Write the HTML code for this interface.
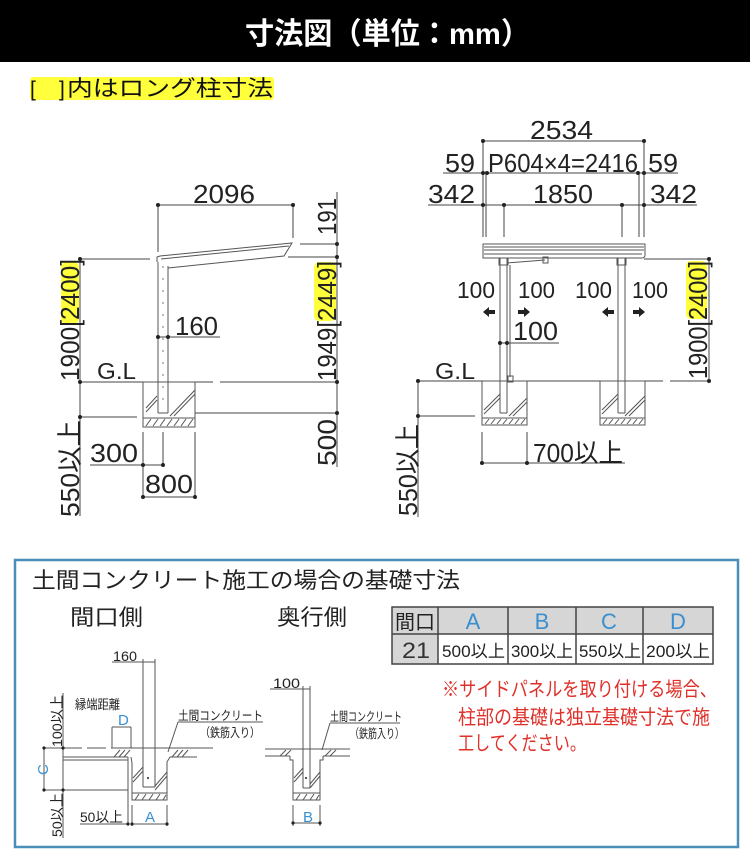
<!DOCTYPE html>
<html><head><meta charset="utf-8">
<style>
html,body{margin:0;padding:0;background:#fff;}
svg{display:block}
text{font-family:"Liberation Sans","Noto Sans CJK JP",sans-serif;}
</style></head><body>
<svg width="750" height="862" viewBox="0 0 750 862" xmlns="http://www.w3.org/2000/svg">
<rect width="750" height="862" fill="#fff"/>
<!-- header -->
<rect x="0" y="0" width="750" height="62" fill="#000"/>
<text x="245" y="44" font-size="30" font-weight="bold" fill="#fff" textLength="285" lengthAdjust="spacingAndGlyphs">寸法図（単位：mm）</text>
<!-- legend -->
<rect x="30" y="77" width="244" height="23" rx="3" fill="#ffff3c"/>
<text x="30" y="96" font-size="21" fill="#111">[</text>
<text x="59" y="96" font-size="21" fill="#111">]</text>
<text x="67" y="96" font-size="22" fill="#111" textLength="206" lengthAdjust="spacingAndGlyphs">内はロング柱寸法</text>

<!-- yellow highlights for rotated labels -->
<rect x="61" y="262" width="18" height="62" rx="5" fill="#ffff3c"/>
<rect x="314" y="262" width="22" height="59" rx="5" fill="#ffff3c"/>
<rect x="686" y="261" width="21" height="58" rx="5" fill="#ffff3c"/>

<!-- ===== LEFT DIAGRAM dimension lines ===== -->
<g stroke="#444" stroke-width="1" fill="none">
 <line x1="158" y1="205" x2="293" y2="205"/>
 <line x1="158" y1="205" x2="158" y2="252"/>
 <line x1="293" y1="205" x2="293" y2="238"/>
 <line x1="337" y1="192" x2="337" y2="467"/>
 <line x1="300" y1="244" x2="337" y2="244"/>
 <line x1="288" y1="257" x2="337" y2="257"/>
 <line x1="80" y1="259" x2="80" y2="516"/>
 <line x1="80" y1="259" x2="150" y2="259"/>
 <line x1="80" y1="417" x2="137" y2="417"/>
 <line x1="80" y1="382" x2="213" y2="382"/>
 <line x1="220" y1="382" x2="337" y2="382"/>
 <line x1="195" y1="413" x2="337" y2="413"/>
 <line x1="158" y1="337" x2="220" y2="337"/>
 <line x1="143" y1="432" x2="143" y2="498"/>
 <line x1="163" y1="432" x2="163" y2="465"/>
 <line x1="195" y1="432" x2="195" y2="498"/>
 <line x1="90" y1="465" x2="163" y2="465"/>
 <line x1="143" y1="497" x2="195" y2="497"/>
</g>
<!-- left structure -->
<g stroke="#555" stroke-width="1" fill="none">
 <polyline points="157,262 157,257 160,256 292,243 284,256 168,268"/>
 <line x1="161" y1="259" x2="289" y2="246"/>
 <line x1="158" y1="262" x2="158" y2="413"/>
 <line x1="168" y1="266" x2="168" y2="413"/>
 <line x1="163" y1="266" x2="163" y2="410" stroke-dasharray="2 10" stroke="#777"/>
 <line x1="158" y1="413" x2="168" y2="413"/>
 <rect x="143" y="382" width="52" height="45"/>
 <line x1="143" y1="418" x2="195" y2="418"/>
 <line x1="146" y1="426" x2="151" y2="419"/><line x1="153" y1="426" x2="158" y2="419"/><line x1="160" y1="426" x2="165" y2="419"/><line x1="167" y1="426" x2="172" y2="419"/><line x1="174" y1="426" x2="179" y2="419"/><line x1="181" y1="426" x2="186" y2="419"/><line x1="188" y1="426" x2="193" y2="419"/>
 <line x1="146" y1="408" x2="157" y2="396"/><line x1="146" y1="412" x2="157" y2="400"/>
 <line x1="170" y1="416" x2="195" y2="390"/><line x1="174" y1="416" x2="195" y2="394"/>
</g>
<!-- left dots -->
<g fill="#222">
 <circle cx="158" cy="205" r="2"/><circle cx="293" cy="205" r="2"/>
 <circle cx="337" cy="244" r="2"/><circle cx="337" cy="257" r="2"/>
 <circle cx="337" cy="382" r="2"/><circle cx="337" cy="413" r="2"/>
 <circle cx="80" cy="259" r="2"/><circle cx="80" cy="382" r="2"/><circle cx="80" cy="417" r="2"/>
 <circle cx="158" cy="337" r="2"/><circle cx="168" cy="337" r="2"/>
 <circle cx="143" cy="465" r="2"/><circle cx="163" cy="465" r="2"/>
 <circle cx="143" cy="497" r="2"/><circle cx="195" cy="497" r="2"/>
</g>
<!-- left texts -->
<g fill="#222" font-size="26">
 <text x="193" y="203" textLength="62" lengthAdjust="spacingAndGlyphs">2096</text>
 <text x="175" y="335" textLength="43" lengthAdjust="spacingAndGlyphs">160</text>
 <text x="97" y="379" font-size="23" textLength="39" lengthAdjust="spacingAndGlyphs">G.L</text>
 <text x="90" y="462" textLength="48" lengthAdjust="spacingAndGlyphs">300</text>
 <text x="145" y="493" textLength="48" lengthAdjust="spacingAndGlyphs">800</text>
 <text transform="translate(79,381) rotate(-90)" textLength="122" lengthAdjust="spacingAndGlyphs">1900[2400]</text>
 <text transform="translate(79,517) rotate(-90)" textLength="97" lengthAdjust="spacingAndGlyphs">550以上</text>
 <text transform="translate(336,235) rotate(-90)" textLength="37" lengthAdjust="spacingAndGlyphs">191</text>
 <text transform="translate(336,381) rotate(-90)" textLength="120" lengthAdjust="spacingAndGlyphs">1949[2449]</text>
 <text transform="translate(336,466) rotate(-90)" textLength="47" lengthAdjust="spacingAndGlyphs">500</text>
</g>

<!-- ===== RIGHT DIAGRAM ===== -->
<g stroke="#444" stroke-width="1" fill="none">
 <line x1="483" y1="141" x2="644" y2="141"/>
 <line x1="443" y1="173" x2="678" y2="173"/>
 <line x1="428" y1="205" x2="697" y2="205"/>
 <line x1="483" y1="141" x2="483" y2="237"/>
 <line x1="486" y1="173" x2="486" y2="237"/>
 <line x1="504" y1="205" x2="504" y2="237"/>
 <line x1="622" y1="205" x2="622" y2="237"/>
 <line x1="639" y1="173" x2="639" y2="237"/>
 <line x1="644" y1="141" x2="644" y2="237"/>
 <line x1="644" y1="259" x2="709" y2="259"/>
 <line x1="709" y1="259" x2="709" y2="381"/>
 <line x1="418" y1="381" x2="663" y2="381"/>
 <line x1="670" y1="381" x2="709" y2="381"/>
 <line x1="418" y1="381" x2="418" y2="517"/>
 <line x1="418" y1="416" x2="475" y2="416"/>
 <line x1="500" y1="343" x2="559" y2="343"/>
 <line x1="482" y1="432" x2="482" y2="464"/>
 <line x1="527" y1="432" x2="527" y2="464"/>
 <line x1="482" y1="463" x2="625" y2="463"/>
</g>
<g stroke="#555" stroke-width="1" fill="none">
 <path d="M483,244 H645 V255 Q645,258 642,258 H483 Z"/>
 <line x1="484" y1="247" x2="644" y2="247"/>
 <line x1="484" y1="250" x2="644" y2="250"/>
 <line x1="484" y1="254" x2="642" y2="254"/>
 <line x1="500" y1="258" x2="500" y2="413"/>
 <line x1="507" y1="258" x2="507" y2="413"/>
 <line x1="500" y1="413" x2="507" y2="413"/>
 <rect x="499" y="258" width="9" height="7"/>
 <polyline points="507,263 545,260"/>
 <rect x="543" y="257" width="5" height="6"/>
 <line x1="510" y1="265" x2="510" y2="377"/>
 <rect x="508" y="376" width="5" height="6"/>
 <line x1="618" y1="258" x2="618" y2="413"/>
 <line x1="625" y1="258" x2="625" y2="413"/>
 <line x1="618" y1="413" x2="625" y2="413"/>
 <rect x="617" y="258" width="9" height="7"/>
 <rect x="482" y="381" width="45" height="44"/>
 <line x1="482" y1="418" x2="527" y2="418"/>
 <line x1="485" y1="424" x2="489" y2="419"/><line x1="491" y1="424" x2="495" y2="419"/><line x1="497" y1="424" x2="501" y2="419"/><line x1="503" y1="424" x2="507" y2="419"/><line x1="509" y1="424" x2="513" y2="419"/><line x1="515" y1="424" x2="519" y2="419"/><line x1="521" y1="424" x2="525" y2="419"/>
 <line x1="484" y1="410" x2="500" y2="394"/><line x1="484" y1="414" x2="500" y2="398"/>
 <line x1="509" y1="416" x2="527" y2="398"/><line x1="513" y1="416" x2="527" y2="402"/>
 <rect x="600" y="381" width="45" height="44"/>
 <line x1="600" y1="418" x2="645" y2="418"/>
 <line x1="603" y1="424" x2="607" y2="419"/><line x1="609" y1="424" x2="613" y2="419"/><line x1="615" y1="424" x2="619" y2="419"/><line x1="621" y1="424" x2="625" y2="419"/><line x1="627" y1="424" x2="631" y2="419"/><line x1="633" y1="424" x2="637" y2="419"/><line x1="639" y1="424" x2="643" y2="419"/>
 <line x1="602" y1="410" x2="618" y2="394"/><line x1="602" y1="414" x2="618" y2="398"/>
 <line x1="625" y1="416" x2="645" y2="396"/><line x1="629" y1="416" x2="645" y2="400"/>
</g>
<g fill="#222">
 <circle cx="483" cy="141" r="2"/><circle cx="644" cy="141" r="2"/>
 <circle cx="483" cy="173" r="2"/><circle cx="487" cy="173" r="2"/><circle cx="638" cy="173" r="2"/><circle cx="644" cy="173" r="2"/>
 <circle cx="483" cy="205" r="2"/><circle cx="504" cy="205" r="2"/><circle cx="622" cy="205" r="2"/><circle cx="644" cy="205" r="2"/>
 <circle cx="709" cy="259" r="2"/><circle cx="709" cy="381" r="2"/>
 <circle cx="418" cy="381" r="2"/><circle cx="418" cy="416" r="2"/>
 <circle cx="500" cy="343" r="2"/><circle cx="507" cy="343" r="2"/>
 <circle cx="482" cy="463" r="2"/><circle cx="527" cy="463" r="2"/>
 <!-- arrows -->
 <polygon points="483,312 489,307 489,310 495,310 495,314 489,314 489,317"/>
 <polygon points="602,312 608,307 608,310 614,310 614,314 608,314 608,317"/>
 <polygon points="530,312 524,307 524,310 518,310 518,314 524,314 524,317"/>
 <polygon points="645,312 639,307 639,310 633,310 633,314 639,314 639,317"/>
</g>
<g fill="#222" font-size="26">
 <text x="530" y="139" textLength="63" lengthAdjust="spacingAndGlyphs">2534</text>
 <text x="445" y="172" textLength="30" lengthAdjust="spacingAndGlyphs">59</text>
 <text x="488" y="172" textLength="150" lengthAdjust="spacingAndGlyphs">P604×4=2416</text>
 <text x="648" y="172" textLength="30" lengthAdjust="spacingAndGlyphs">59</text>
 <text x="428" y="203" textLength="47" lengthAdjust="spacingAndGlyphs">342</text>
 <text x="533" y="203" textLength="60" lengthAdjust="spacingAndGlyphs">1850</text>
 <text x="650" y="203" textLength="47" lengthAdjust="spacingAndGlyphs">342</text>
 <text x="457" y="298" font-size="23" textLength="38" lengthAdjust="spacingAndGlyphs">100</text>
 <text x="518" y="298" font-size="23" textLength="37" lengthAdjust="spacingAndGlyphs">100</text>
 <text x="575" y="298" font-size="23" textLength="37" lengthAdjust="spacingAndGlyphs">100</text>
 <text x="632" y="298" font-size="23" textLength="36" lengthAdjust="spacingAndGlyphs">100</text>
 <text x="513" y="340" textLength="45" lengthAdjust="spacingAndGlyphs">100</text>
 <text x="435" y="379" font-size="23" textLength="40" lengthAdjust="spacingAndGlyphs">G.L</text>
 <text x="533" y="462" textLength="90" lengthAdjust="spacingAndGlyphs">700以上</text>
 <text transform="translate(417,516) rotate(-90)" textLength="92" lengthAdjust="spacingAndGlyphs">550以上</text>
 <text transform="translate(707,379) rotate(-90)" textLength="118" lengthAdjust="spacingAndGlyphs">1900[2400]</text>
</g>

<!-- ===== BOTTOM BOX ===== -->
<rect x="15" y="560" width="723" height="287" fill="#fff" stroke="#4a8fba" stroke-width="2.5"/>
<text x="32" y="588" font-size="22" fill="#222" textLength="428" lengthAdjust="spacingAndGlyphs">土間コンクリート施工の場合の基礎寸法</text>
<text x="70" y="625" font-size="22" fill="#222" textLength="73" lengthAdjust="spacingAndGlyphs">間口側</text>
<text x="277" y="625" font-size="22" fill="#222" textLength="70" lengthAdjust="spacingAndGlyphs">奥行側</text>

<!-- table -->
<rect x="392" y="607" width="321" height="27" fill="#d6d6d6"/>
<rect x="392" y="634" width="46" height="30" fill="#d6d6d6"/>
<g stroke="#444" stroke-width="1.5" fill="none">
 <rect x="392" y="607" width="321" height="57"/>
 <line x1="392" y1="634" x2="713" y2="634"/>
 <line x1="438" y1="607" x2="438" y2="664"/>
 <line x1="508" y1="607" x2="508" y2="664"/>
 <line x1="576" y1="607" x2="576" y2="664"/>
 <line x1="643" y1="607" x2="643" y2="664"/>
</g>
<text x="395" y="629" font-size="20" fill="#222" textLength="40" lengthAdjust="spacingAndGlyphs">間口</text>
<g fill="#3a8fd0" font-size="22" text-anchor="middle">
 <text x="473" y="629">A</text><text x="542" y="629">B</text><text x="609" y="629">C</text><text x="678" y="629">D</text>
</g>
<text x="402" y="658" font-size="22" fill="#333" textLength="28" lengthAdjust="spacingAndGlyphs">21</text>
<g fill="#222" font-size="17">
 <text x="442" y="657" textLength="63" lengthAdjust="spacingAndGlyphs">500以上</text>
 <text x="511" y="657" textLength="62" lengthAdjust="spacingAndGlyphs">300以上</text>
 <text x="579" y="657" textLength="62" lengthAdjust="spacingAndGlyphs">550以上</text>
 <text x="646" y="657" textLength="64" lengthAdjust="spacingAndGlyphs">200以上</text>
</g>
<g fill="#e0302a" font-size="20">
 <text x="442" y="696" textLength="275" lengthAdjust="spacingAndGlyphs">※サイドパネルを取り付ける場合、</text>
 <text x="458" y="724" textLength="252" lengthAdjust="spacingAndGlyphs">柱部の基礎は独立基礎寸法で施</text>
 <text x="458" y="750" textLength="128" lengthAdjust="spacingAndGlyphs">工してください。</text>
</g>

<!-- detail left (間口側) -->
<g stroke="#555" stroke-width="1" fill="none">
 <line x1="112" y1="662" x2="155" y2="662"/>
 <line x1="143" y1="659" x2="143" y2="665"/><line x1="155" y1="659" x2="155" y2="665"/>
 <line x1="143" y1="662" x2="143" y2="787"/>
 <line x1="155" y1="662" x2="155" y2="787"/>
 <line x1="143" y1="787" x2="155" y2="787"/>
 <line x1="112" y1="727" x2="131" y2="727"/>
 <line x1="112" y1="727" x2="112" y2="748"/><line x1="131" y1="727" x2="131" y2="748"/>
 <line x1="63" y1="693" x2="63" y2="838"/>
 <line x1="44" y1="748" x2="44" y2="790"/>
 <line x1="44" y1="748" x2="82" y2="748"/>
 <line x1="87" y1="748" x2="106" y2="748"/>
 <line x1="111" y1="748" x2="213" y2="748"/>
 <line x1="63" y1="757" x2="128" y2="757"/>
 <line x1="63" y1="760" x2="128" y2="760"/>
 <line x1="44" y1="790" x2="128" y2="790"/>
 <line x1="128" y1="757" x2="128" y2="825"/>
 <polyline points="131,757 132,763 132,800 167,800 167,762 170,757 197,757"/>
 <line x1="132" y1="793" x2="167" y2="793"/>
 <line x1="135" y1="800" x2="139" y2="794"/><line x1="142" y1="800" x2="146" y2="794"/><line x1="149" y1="800" x2="153" y2="794"/><line x1="156" y1="800" x2="160" y2="794"/><line x1="163" y1="800" x2="166" y2="795"/>
 <line x1="133" y1="778" x2="143" y2="767"/><line x1="133" y1="782" x2="143" y2="771"/>
 <line x1="155" y1="786" x2="167" y2="772"/><line x1="155" y1="790" x2="167" y2="776"/>
 <line x1="114" y1="757" x2="120" y2="750"/><line x1="119" y1="757" x2="125" y2="750"/><line x1="124" y1="757" x2="130" y2="750"/>
 <line x1="172" y1="757" x2="178" y2="750"/><line x1="177" y1="757" x2="183" y2="750"/><line x1="182" y1="757" x2="188" y2="750"/>
 <line x1="178" y1="722" x2="263" y2="722"/>
 <line x1="178" y1="722" x2="168" y2="752"/>
 <line x1="167" y1="805" x2="167" y2="826"/>
 <line x1="132" y1="805" x2="132" y2="826"/>
 <line x1="80" y1="824" x2="128" y2="824"/>
 <line x1="132" y1="824" x2="167" y2="824"/>
</g>
<g fill="#222">
 <circle cx="44" cy="748" r="1.6"/><circle cx="44" cy="790" r="1.6"/>
 <circle cx="63" cy="748" r="1.6"/><circle cx="63" cy="790" r="1.6"/>
 <circle cx="132" cy="824" r="1.6"/><circle cx="167" cy="824" r="1.6"/><circle cx="128" cy="824" r="1.6"/>
 <circle cx="148" cy="778" r="1"/>
</g>
<g fill="#222" font-size="14">
 <text x="113" y="661" textLength="24" lengthAdjust="spacingAndGlyphs">160</text>
 <text x="75" y="709" font-size="13" textLength="45" lengthAdjust="spacingAndGlyphs">縁端距離</text>
 <text transform="translate(62,747) rotate(-90)" textLength="52" lengthAdjust="spacingAndGlyphs">100以上</text>
 <text transform="translate(62,837) rotate(-90)" textLength="44" lengthAdjust="spacingAndGlyphs">50以上</text>
 <text x="80" y="822" textLength="43" lengthAdjust="spacingAndGlyphs">50以上</text>
 <text x="178" y="720" font-size="12.5" textLength="85" lengthAdjust="spacingAndGlyphs">土間コンクリート</text>
 <text x="200" y="737" font-size="12.5" textLength="60" lengthAdjust="spacingAndGlyphs">（鉄筋入り）</text>
</g>
<g fill="#3a8fd0" font-size="15">
 <text x="118" y="725">D</text>
 <text x="145" y="822">A</text>
 <text transform="translate(48,775) rotate(-90)">C</text>
</g>

<!-- detail right (奥行側) -->
<g stroke="#555" stroke-width="1" fill="none">
 <line x1="270" y1="689" x2="310" y2="689"/>
 <line x1="303" y1="686" x2="303" y2="692"/><line x1="310" y1="686" x2="310" y2="692"/>
 <line x1="303" y1="689" x2="303" y2="788"/>
 <line x1="310" y1="689" x2="310" y2="788"/>
 <line x1="303" y1="788" x2="310" y2="788"/>
 <line x1="265" y1="749" x2="350" y2="749"/>
 <line x1="265" y1="756" x2="290" y2="756"/>
 <line x1="323" y1="756" x2="350" y2="756"/>
 <polyline points="290,756 290,760 293,760 293,800 320,800 320,760 323,760 323,756"/>
 <line x1="293" y1="793" x2="320" y2="793"/>
 <line x1="296" y1="800" x2="300" y2="794"/><line x1="303" y1="800" x2="307" y2="794"/><line x1="310" y1="800" x2="314" y2="794"/><line x1="316" y1="800" x2="319" y2="795"/>
 <line x1="294" y1="778" x2="303" y2="768"/><line x1="294" y1="782" x2="303" y2="772"/>
 <line x1="310" y1="784" x2="320" y2="772"/><line x1="310" y1="788" x2="320" y2="776"/>
 <line x1="280" y1="756" x2="286" y2="750"/><line x1="285" y1="756" x2="291" y2="750"/>
 <line x1="325" y1="756" x2="331" y2="750"/><line x1="330" y1="756" x2="336" y2="750"/>
 <line x1="330" y1="723" x2="400" y2="723"/>
 <line x1="330" y1="723" x2="322" y2="750"/>
 <line x1="293" y1="805" x2="293" y2="826"/>
 <line x1="320" y1="805" x2="320" y2="826"/>
 <line x1="293" y1="823" x2="320" y2="823"/>
</g>
<g fill="#222">
 <circle cx="293" cy="823" r="1.6"/><circle cx="320" cy="823" r="1.6"/>
 <circle cx="306" cy="778" r="1"/>
</g>
<g fill="#222" font-size="14">
 <text x="273" y="688" textLength="27" lengthAdjust="spacingAndGlyphs">100</text>
 <text x="330" y="721" font-size="12.5" textLength="72" lengthAdjust="spacingAndGlyphs">土間コンクリート</text>
 <text x="350" y="738" font-size="12.5" textLength="54" lengthAdjust="spacingAndGlyphs">（鉄筋入り）</text>
</g>
<text x="303" y="822" font-size="15" fill="#3a8fd0">B</text>
</svg>
</body></html>
